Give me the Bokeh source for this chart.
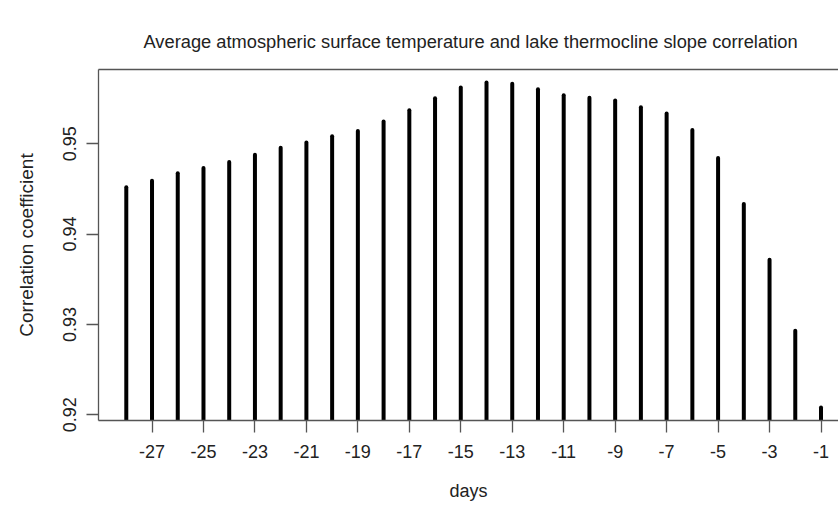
from bokeh.plotting import figure
from bokeh.models import LinearAxis, FixedTicker, PrintfTickFormatter, Range1d, ColumnDataSource
from bokeh.embed import file_html
from bokeh.resources import INLINE

# ---- data ----
days = [-28, -27, -26, -25, -24, -23, -22, -21, -20, -19, -18, -17, -16, -15,
        -14, -13, -12, -11, -10, -9, -8, -7, -6, -5, -4, -3, -2, -1]
correlation = [0.94517, 0.94591, 0.94672, 0.94731, 0.94797, 0.94878, 0.94955,
               0.95014, 0.95081, 0.95139, 0.95246, 0.95371, 0.95504, 0.95622,
               0.95677, 0.95662, 0.95603, 0.95537, 0.95508, 0.95478, 0.95404,
               0.95335, 0.95151, 0.94841, 0.94333, 0.93715, 0.92931, 0.92081]
x_ticks = [-27, -25, -23, -21, -19, -17, -15, -13, -11, -9, -7, -5, -3, -1]
y_ticks = [0.92, 0.93, 0.94, 0.95]
title_text = "Average atmospheric surface temperature and lake thermocline slope correlation"
x_label = "days"
y_label = "Correlation coefficient"

# R-style 4% axis padding
xmin, xmax = min(days), max(days)
xpad = 0.04 * (xmax - xmin)
ymin, ymax = min(correlation), max(correlation)
ypad = 0.04 * (ymax - ymin)
x_start = xmin - xpad
x_end = -0.32   # image is cropped at the right side of the plot box
y_start = ymin - ypad
y_end = ymax + ypad

FONT = "Liberation Sans"
TXT = "#222222"
AX = "#555555"

p = figure(width=838, height=507, output_backend="svg", toolbar_location=None,
           x_range=Range1d(x_start, x_end), y_range=Range1d(y_start, y_end),
           min_border_left=98, min_border_right=0, min_border_top=69,
           min_border_bottom=87, outline_line_color=None,
           background_fill_color="white", border_fill_color="white")

p.xgrid.grid_line_color = None
p.ygrid.grid_line_color = None

src = ColumnDataSource(dict(x=days, y=correlation, y0=[y_start] * len(days)))
p.segment(x0="x", y0="y0", x1="x", y1="y", source=src, line_color="black",
          line_width=4, line_cap="round")

# title
p.title.text = title_text
p.title.align = "left"
p.title.offset = 45
p.title.standoff = 36
p.title.text_font = FONT
p.title.text_font_size = "18.3px"
p.title.text_font_style = "normal"
p.title.text_color = TXT

# bottom axis
xa = p.xaxis[0]
xa.ticker = FixedTicker(ticks=x_ticks)
xa.formatter = PrintfTickFormatter(format="%d")
xa.axis_label = x_label
for a in [xa, p.yaxis[0]]:
    a.axis_line_color = AX
    a.axis_line_width = 1.3
    a.major_tick_line_color = AX
    a.major_tick_line_width = 1.3
    a.major_tick_out = 12
    a.major_tick_in = 0
    a.minor_tick_line_color = None
    a.major_label_text_font = FONT
    a.major_label_text_font_size = "18px"
    a.major_label_text_color = TXT
    a.axis_label_text_font = FONT
    a.axis_label_text_font_size = "18px"
    a.axis_label_text_font_style = "normal"
    a.axis_label_text_color = TXT
xa.major_label_standoff = 12
xa.axis_label_standoff = 20

ya = p.yaxis[0]
ya.ticker = FixedTicker(ticks=y_ticks)
ya.formatter = PrintfTickFormatter(format="%.2f")
ya.axis_label = y_label
ya.axis_label_text_font_size = "19px"
ya.major_label_orientation = "parallel"
ya.major_label_standoff = 10
ya.axis_label_standoff = 24

# top border line (plot box, cropped at right)
top = LinearAxis(ticker=FixedTicker(ticks=[]), axis_line_color=AX, axis_line_width=1.3,
                 major_tick_line_color=None, minor_tick_line_color=None,
                 major_label_text_font_size="0px", major_tick_out=0, major_tick_in=0,
                 major_label_standoff=0)
p.add_layout(top, "above")

open("out.html", "w").write(file_html(p, INLINE))
